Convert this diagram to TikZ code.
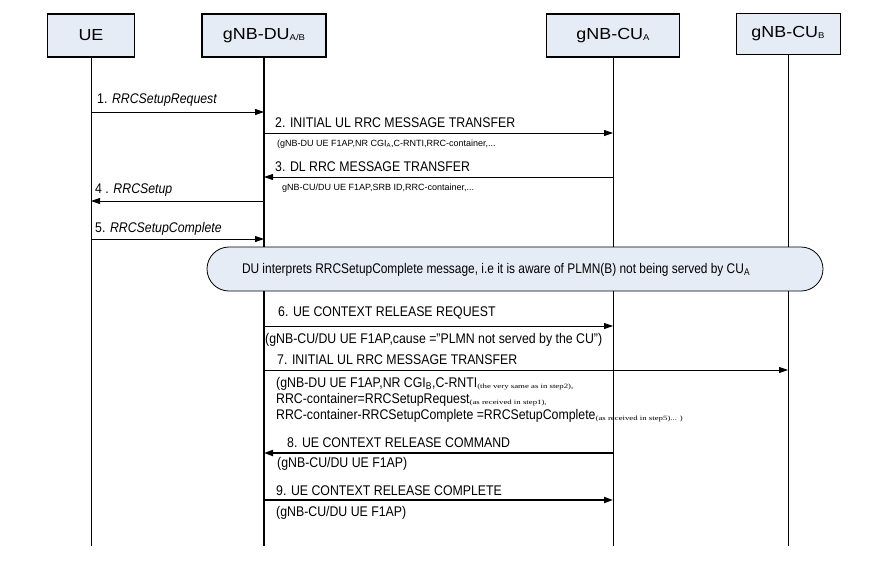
\documentclass[tikz,border=0pt]{standalone}
\usepackage{fontspec}
\setmainfont{Liberation Sans}
\newfontfamily\tinyserif{Liberation Serif}
\usetikzlibrary{arrows.meta}
\definecolor{boxfill}{HTML}{E6ECF6}
\newcommand{\tnote}[1]{\raisebox{-1pt}{\scalebox{1.35}[1]{\tinyserif\fontsize{6.5}{6.5}\selectfont #1}}}
\newcommand{\sbs}[1]{\raisebox{-1pt}{\fontsize{8.5}{8.5}\selectfont #1}}
\newcommand{\nx}[1]{\scalebox{0.88}[1]{#1}}
\newcommand{\wx}[1]{\scalebox{1.12}[1]{#1}}
\begin{document}
\begin{tikzpicture}[x=1pt,y=-1pt,
  ent/.style={draw,fill=boxfill,line width=1.5pt,minimum height=43pt,inner sep=0pt,font=\fontsize{16}{16}\selectfont},
  life/.style={line width=0.8pt},
  msg/.style={line width=0.8pt,-{Triangle[length=9pt,width=6pt]}},
  msgb/.style={line width=1.8pt,-{Triangle[length=9pt,width=6pt]}},
  lbl/.style={anchor=base west,inner sep=0pt,font=\fontsize{14}{15}\selectfont},
  sublbl/.style={anchor=base west,inner sep=0pt,font=\fontsize{9}{10}\selectfont},
  subbig/.style={anchor=base west,inner sep=0pt,font=\fontsize{14}{15}\selectfont},
]
\useasboundingbox (0,0) rectangle (886,579);
\fill[white] (0,0) rectangle (886,579);

% entities
\node[ent,minimum width=87pt] (ue) at (91,35.5) {\wx{UE}};
\node[ent,minimum width=124pt] (du) at (264,35.5) {\wx{gNB-DU\sbs{A/B}}};
\node[ent,minimum width=133pt] (cua) at (613,35.5) {\wx{gNB-CU\sbs{A}}};
\node[ent,minimum width=104pt,minimum height=41pt,line width=1pt] (cub) at (788,33.5) {\wx{gNB-CU\sbs{B}}};

% lifelines
\coordinate (ueE) at (91,546);
\coordinate (duE) at (264,546);
\coordinate (cuaE) at (613,546);
\coordinate (cubE) at (788,546);
\draw[life] (ue.south) -- (ueE);
\draw[line width=1.8pt] (du.south) -- (duE);
\draw[life] (cua.south) -- (cuaE);
\draw[life] (cub.south) -- (cubE);

% message 1
\coordinate (m1s) at (92,112); \coordinate (m1e) at (264,112);
\draw[msg] (m1s) -- (m1e);
\node[lbl] (l1) at (97,103) {\nx{1. \textit{RRCSetupRequest}}};

% message 2
\coordinate (m2s) at (264,133); \coordinate (m2e) at (613,133);
\draw[msg] (m2s) -- (m2e);
\node[lbl] (l2) at (275,127) {\nx{2. INITIAL UL RRC MESSAGE TRANSFER}};
\node[sublbl] (s2) at (277,146) {(gNB-DU UE F1AP,NR CGI\textsubscript{A},C-RNTI,RRC-container,...};

% message 3
\coordinate (m3s) at (613,177); \coordinate (m3e) at (264,177);
\draw[msg] (m3s) -- (m3e);
\node[lbl] (l3) at (275,171) {\nx{3. DL RRC MESSAGE TRANSFER}};
\node[sublbl] (s3) at (282,190) {gNB-CU/DU UE F1AP,SRB ID,RRC-container,...};

% message 4
\coordinate (m4s) at (264,201); \coordinate (m4e) at (91,201);
\draw[msg] (m4s) -- (m4e);
\node[lbl] (l4) at (95,193) {\nx{4 . \textit{RRCSetup}}};

% message 5
\coordinate (m5s) at (92,239); \coordinate (m5e) at (264,239);
\draw[msg] (m5s) -- (m5e);
\node[lbl] (l5) at (95,232) {\nx{5. \textit{RRCSetupComplete}}};

% note
\node[draw,fill=boxfill,rounded corners=22pt,minimum width=616pt,minimum height=44pt,line width=0.8pt] (note) at (515,269) {};
\node[inner sep=0pt,font=\fontsize{14}{15}\selectfont] (notetxt) at (496,270) {\scalebox{0.85}[1]{DU interprets RRCSetupComplete message, i.e it is aware of PLMN(B) not being served by CU\textsubscript{A}}};

% message 6
\coordinate (m6s) at (263,326); \coordinate (m6e) at (613,326);
\draw[msg] (m6s) -- (m6e);
\node[lbl] (l6) at (278,316) {\nx{6. UE CONTEXT RELEASE REQUEST}};
\node[subbig] (s6) at (265,343) {\nx{(gNB-CU/DU UE F1AP,cause ="PLMN not served by the CU")}};

% message 7
\coordinate (m7s) at (264,370); \coordinate (m7e) at (788,370);
\draw[msg] (m7s) -- (m7e);
\node[lbl] (l7) at (277,364) {\nx{7. INITIAL UL RRC MESSAGE TRANSFER}};
\node[subbig] (s7a) at (276,387) {\nx{(gNB-DU UE F1AP,NR CGI\textsubscript{B},C-RNTI}\tnote{(the very same as in step2),}};
\node[subbig] (s7b) at (276,403) {\nx{RRC-container=RRCSetupRequest}\tnote{(as received in step1),}};
\node[subbig] (s7c) at (276,419) {\nx{RRC-container-RRCSetupComplete =RRCSetupComplete}\tnote{(as received in step5)... )}};

% message 8
\coordinate (m8s) at (614,453); \coordinate (m8e) at (264,453);
\draw[msgb] (m8s) -- (m8e);
\node[lbl] (l8) at (287,447) {\nx{8. UE CONTEXT RELEASE COMMAND}};
\node[subbig] (s8) at (277,467) {\nx{(gNB-CU/DU UE F1AP)}};

% message 9
\coordinate (m9s) at (264,500); \coordinate (m9e) at (613,500);
\draw[msgb] (m9s) -- (m9e);
\node[lbl] (l9) at (276,495) {\nx{9. UE CONTEXT RELEASE COMPLETE}};
\node[subbig] (s9) at (276,516) {\nx{(gNB-CU/DU UE F1AP)}};
\end{tikzpicture}
\end{document}
